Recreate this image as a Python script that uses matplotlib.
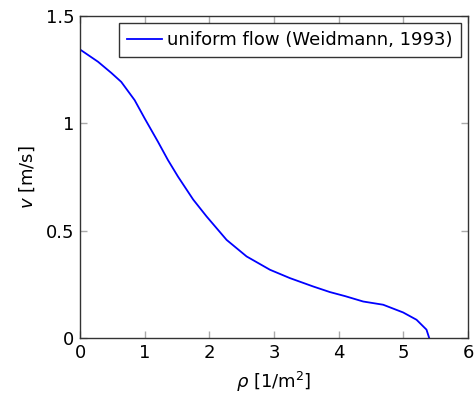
import matplotlib
matplotlib.use("Agg")
import matplotlib.pyplot as plt

rho = [0.0, 0.278, 0.484, 0.638, 0.845, 1.0, 1.206, 1.36, 1.515, 1.75, 1.958, 2.267, 2.576, 2.937,
       3.246, 3.606, 3.864, 4.1, 4.379, 4.688, 4.997, 5.204, 5.358, 5.40]
v = [1.344, 1.287, 1.235, 1.193, 1.108, 1.023, 0.914, 0.829, 0.752, 0.645, 0.566, 0.457, 0.380, 0.318,
     0.279, 0.240, 0.214, 0.195, 0.170, 0.155, 0.119, 0.085, 0.039, 0.0]
xticks = [0, 1, 2, 3, 4, 5, 6]
yticks = [0, 0.5, 1, 1.5]
ytick_labels = ["0", "0.5", "1", "1.5"]

plt.rcParams['font.family'] = ['DejaVu Sans']
plt.rcParams['mathtext.fontset'] = 'dejavusans'

fig = plt.figure(figsize=(4.76, 4.01), dpi=100)
ax = fig.add_axes([80/476, 1-338/401, 388/476, 322/401])
ax.plot(rho, v, color='#0000ff', lw=1.3, label='uniform flow (Weidmann, 1993)',
        solid_joinstyle='round')
ax.set_xlim(0, 6)
ax.set_ylim(0, 1.5)
ax.set_xticks(xticks)
ax.set_yticks(yticks)
ax.set_yticklabels(ytick_labels)
ax.tick_params(direction='in', length=5, color='#aaaaaa', width=1, top=True, right=True, labelsize=13, pad=4)
for s in ax.spines.values():
    s.set_color('#333333')
    s.set_linewidth(1.0)
ax.set_xlabel(r'$\rho$ [1/m$^2$]', fontsize=13, labelpad=6)
ax.set_ylabel(r'$v$ [m/s]', fontsize=13, labelpad=6)
leg = ax.legend(loc='upper right', fontsize=13, frameon=True, fancybox=False, borderaxespad=0.4,
                handlelength=1.9, handletextpad=0.3, borderpad=0.45)
leg.get_frame().set_edgecolor('black')
leg.get_frame().set_linewidth(1.0)
fig.savefig('out.png', dpi=100)
